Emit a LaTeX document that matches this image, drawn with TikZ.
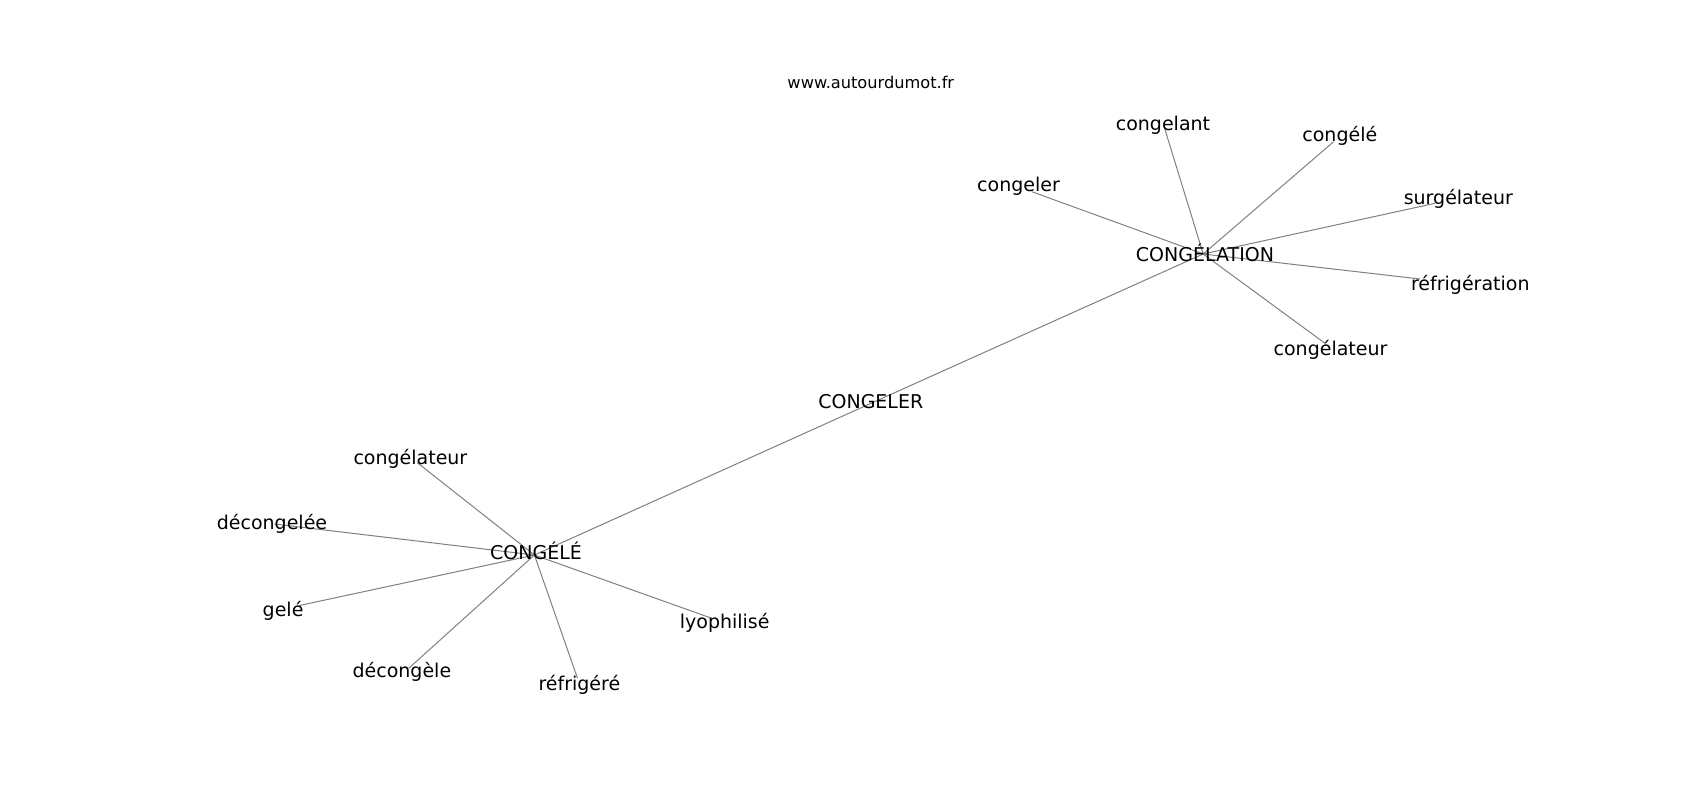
\documentclass[tikz,border=0pt]{standalone}
\usepackage{fontspec}
\setmainfont{DejaVu Sans}
\begin{document}
\begin{tikzpicture}[x=1pt,y=-1pt,
  edge/.style={draw=black!50,line width=1pt},
  lbl/.style={anchor=base,inner sep=0pt,font=\fontsize{19}{22}\selectfont,text=black},
  ttl/.style={anchor=base,inner sep=0pt,font=\fontsize{16.2}{19}\selectfont,text=black}]
\useasboundingbox (0,0) rectangle (1700,800);
% graph vertices
\coordinate (vCongeler) at (870.8,403.4);
\coordinate (vCongelation) at (1203.2,254.0);
\coordinate (vCongele) at (534.4,555.0);
\coordinate (vCongelant) at (1164.6,128.3);
\coordinate (vCongeleR) at (1333.6,141.7);
\coordinate (vCongelerR) at (1031.8,191.7);
\coordinate (vSurgelateur) at (1435.0,203.3);
\coordinate (vRefrigeration) at (1420.0,279.0);
\coordinate (vCongelateurR) at (1325.0,343.3);
\coordinate (vCongelateurL) at (417.3,462.7);
\coordinate (vDecongelee) at (274.4,524.0);
\coordinate (vGele) at (299.4,605.5);
\coordinate (vDecongele) at (408.7,668.3);
\coordinate (vRefrigere) at (577.5,678.3);
\coordinate (vLyophilise) at (711.8,618.3);
% edges
\draw[edge] (vCongeler) -- (vCongele);
\draw[edge] (vCongeler) -- (vCongelation);
\foreach \t in {vCongelant,vCongeleR,vCongelerR,vSurgelateur,vRefrigeration,vCongelateurR}
  \draw[edge] (vCongelation) -- (\t);
\foreach \t in {vCongelateurL,vDecongelee,vGele,vDecongele,vRefrigere,vLyophilise}
  \draw[edge] (vCongele) -- (\t);
% labels
\node[ttl] (title) at (870.8,88.3) {www.autourdumot.fr};
\node[lbl] (lCongeler) at (870.8,408.8) {CONGELER};
\node[lbl] (lCongelation) at (1205.0,261.0) {CONGÉLATION};
\node[lbl] (lCongele) at (536.0,559.3) {CONGÉLÉ};
\node[lbl] (lCongelant) at (1163.0,130.7) {congelant};
\node[lbl] (lCongeleR) at (1339.8,141.7) {congélé};
\node[lbl] (lCongelerR) at (1018.5,191.7) {congeler};
\node[lbl] (lSurgelateur) at (1458.3,204.0) {surgélateur};
\node[lbl] (lRefrigeration) at (1470.3,290.7) {réfrigération};
\node[lbl] (lCongelateurR) at (1330.5,355.7) {congélateur};
\node[lbl] (lCongelateurL) at (410.4,464.0) {congélateur};
\node[lbl] (lDecongelee) at (272.0,529.0) {décongelée};
\node[lbl] (lGele) at (283.1,616.0) {gelé};
\node[lbl] (lDecongele) at (401.9,677.8) {décongèle};
\node[lbl] (lRefrigere) at (579.4,690.0) {réfrigéré};
\node[lbl] (lLyophilise) at (724.7,628.5) {lyophilisé};
\end{tikzpicture}
\end{document}
